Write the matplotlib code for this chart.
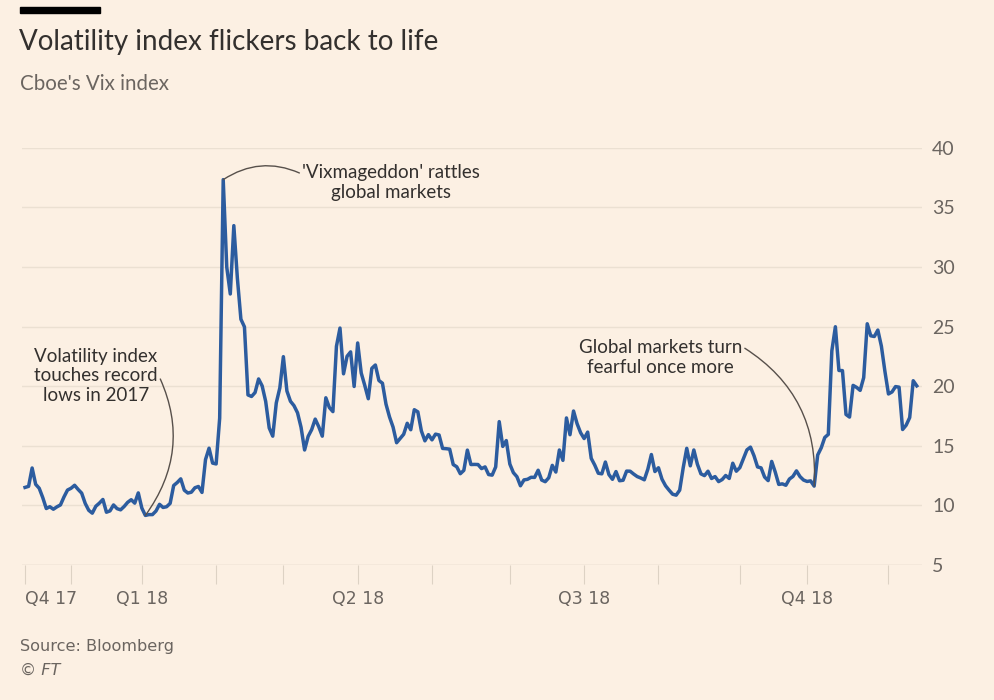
import numpy as np
import pandas as pd
import matplotlib
matplotlib.use("Agg")
import matplotlib.pyplot as plt

# Cboe Vix index, daily closes (13 Nov 2017 - 13 Nov 2018)
holidays = ["2017-11-23", "2017-12-25", "2018-01-01", "2018-01-15", "2018-02-19",
            "2018-03-30", "2018-05-28", "2018-07-04", "2018-09-03"]
vix = [
    # Nov 17
    11.50, 11.59, 13.13, 11.76, 11.43, 10.65, 9.73, 9.88, 9.67, 9.87, 10.03, 10.70, 11.28,
    # Dec 17
    11.43, 11.68, 11.33, 11.02, 10.16, 9.58, 9.34, 9.92, 10.18, 10.49, 9.42, 9.53, 10.03,
    9.72, 9.62, 9.90, 10.25, 10.47, 10.18, 11.04,
    # Jan 18
    9.77, 9.15, 9.22, 9.22, 9.52, 10.08, 9.82, 9.88, 10.16, 11.66, 11.91, 12.22, 11.27,
    11.03, 11.10, 11.47, 11.58, 11.08, 13.84, 14.79, 13.54,
    # Feb 18
    13.47, 17.31, 37.32, 29.98, 27.73, 33.46, 29.06, 25.61, 24.97, 19.26, 19.13, 19.46,
    20.60, 20.02, 18.72, 16.49, 15.80, 18.59, 19.85,
    # Mar 18
    22.47, 19.59, 18.73, 18.36, 17.76, 16.54, 14.64, 15.78, 16.35, 17.23, 16.59, 15.80,
    19.02, 18.20, 17.86, 23.34, 24.87, 21.03, 22.50, 22.87, 19.97,
    # Apr 18
    23.62, 21.10, 20.06, 18.94, 21.49, 21.77, 20.47, 20.24, 18.49, 17.41, 16.56, 15.25,
    15.60, 15.96, 16.88, 16.34, 18.02, 17.84, 16.24, 15.41, 15.93,
    # May 18
    15.49, 15.97, 15.90, 14.77, 14.75, 14.71, 13.42, 13.23, 12.65, 12.93, 14.63, 13.42,
    13.43, 13.42, 13.08, 13.22, 12.58, 12.53, 13.22, 17.02, 14.94, 15.43,
    # Jun 18
    13.46, 12.74, 12.40, 11.64, 12.13, 12.18, 12.35, 12.34, 12.94, 12.12, 11.98, 12.31,
    13.35, 12.79, 14.64, 13.77, 17.33, 15.92, 17.91, 16.85, 16.09,
    # Jul 18
    15.60, 16.14, 13.94, 13.37, 12.69, 12.64, 13.63, 12.58, 12.18, 12.83, 12.06, 12.10,
    12.87, 12.86, 12.62, 12.41, 12.29, 12.14, 13.03, 14.26, 12.83,
    # Aug 18
    13.15, 12.19, 11.64, 11.27, 10.93, 10.85, 11.27, 13.16, 14.78, 13.31, 14.64, 13.45,
    12.64, 12.49, 12.86, 12.25, 12.41, 11.99, 12.16, 12.50, 12.25, 13.53, 12.86,
    # Sep 18
    13.16, 13.91, 14.65, 14.88, 14.16, 13.22, 13.14, 12.37, 12.07, 13.68, 12.79, 11.75,
    11.80, 11.68, 12.20, 12.42, 12.89, 12.41, 12.12,
    # Oct 18
    12.00, 12.05, 11.61, 14.22, 14.82, 15.69, 15.95, 22.96, 24.98, 21.31, 21.30, 17.62,
    17.40, 20.06, 19.89, 19.64, 20.71, 25.23, 24.22, 24.16, 24.70, 23.35, 21.23,
    # Nov 18
    19.34, 19.51, 19.96, 19.91, 16.36, 16.72, 17.36, 20.45, 20.02,
]
dates = pd.bdate_range("2017-11-13", "2018-11-13", freq="C", holidays=holidays)
s = pd.Series(vix, index=dates)

y_ticks = [5, 10, 15, 20, 25, 30, 35, 40]
q_labels = {"2018-01": "Q1 18", "2018-04": "Q2 18", "2018-07": "Q3 18", "2018-10": "Q4 18"}

BG = "#fcf0e3"
LINE = "#2c5c9f"
DARK = "#33302e"
GREY = "#6b6560"
GRID = "#ebe0d2"

# chart is spaced by trading day
pos = np.arange(len(s))

fig = plt.figure(figsize=(9.94, 7.0), dpi=100, facecolor=BG)
ax = fig.add_axes([0.022, 0.193, 0.906, 0.596], facecolor=BG)

ax.plot(pos, s.values, color=LINE, lw=2.5, solid_joinstyle="round", zorder=3)

ax.set_xlim(-0.9, len(s) + 0.6)
ax.set_ylim(5, 40)

# y axis on the right, gridlines only
ax.yaxis.tick_right()
ax.set_yticks(y_ticks)
ax.set_yticklabels([str(v) for v in y_ticks])
ax.tick_params(axis="y", length=0, pad=7, labelsize=14, labelcolor=GREY)
for lab in ax.get_yticklabels():
    lab.set_fontfamily("Lato")
ax.grid(axis="y", color=GRID, lw=1.0, zorder=0)
for sp in ax.spines.values():
    sp.set_visible(False)

# ticks at the first trading day of every month
months = s.index.to_period("M")
first = [0] + [i for i in range(1, len(s)) if months[i] != months[i - 1]]
labels = ["Q4 17"] + [q_labels.get(str(months[i]), "") for i in first[1:]]
ax.set_xticks(first)
ax.set_xticklabels(labels)
ax.tick_params(axis="x", length=14, width=0.8, color="#ddd2c4", pad=4,
               labelsize=12.5, labelcolor=GREY)
for lab in ax.get_xticklabels():
    lab.set_fontfamily("Liberation Sans Narrow")
ax.get_xticklabels()[0].set_horizontalalignment("left")
ax.axhline(5, color="#e3d8ca", lw=1.0, zorder=1)

# annotations
note_kw = dict(textcoords="axes fraction", ha="center", va="center",
               fontsize=13.5, color=DARK, family="Lato")
arrow_kw = dict(arrowstyle="-", color="#57504b", lw=1.0, shrinkA=0, shrinkB=0)

peak = int(np.argmax(s.values))
ax.annotate("'Vixmageddon' rattles\nglobal markets", xy=(peak, s.iloc[peak]),
            xytext=(0.41, 0.917),
            arrowprops=dict(connectionstyle="arc3,rad=0.28", relpos=(0.0, 0.72), **arrow_kw),
            **note_kw)

jan = np.flatnonzero(months == pd.Period("2018-01", "M"))
low = jan[np.argmin(s.values[jan])]
ax.annotate("Volatility index\ntouches record\nlows in 2017", xy=(low, s.iloc[low]),
            xytext=(0.082, 0.453),
            arrowprops=dict(connectionstyle="arc3,rad=-0.3", relpos=(1.0, 0.55), **arrow_kw),
            **note_kw)

octo = np.flatnonzero(months == pd.Period("2018-10", "M"))[:5]
trough = octo[np.argmin(s.values[octo])]
ax.annotate("Global markets turn\nfearful once more", xy=(trough, s.iloc[trough]),
            xytext=(0.709, 0.497),
            arrowprops=dict(connectionstyle="arc3,rad=-0.3", relpos=(1.0, 0.8), **arrow_kw),
            **note_kw)

# header and footer
fig.patches.append(plt.Rectangle((20 / 994, 1 - 13 / 700), 80 / 994, 6 / 700,
                                 transform=fig.transFigure, color="black", zorder=5))
fig.text(19 / 994, 1 - 42 / 700, "Volatility index flickers back to life",
         fontsize=20, color=DARK, family="Lato", va="center")
fig.text(20 / 994, 1 - 84 / 700, "Cboe's Vix index",
         fontsize=14.8, color=GREY, family="Lato", va="center")
fig.text(20 / 994, 1 - 647 / 700, "Source: Bloomberg",
         fontsize=11.6, color=GREY, family="Liberation Sans Narrow", va="center")
fig.text(20 / 994, 1 - 670 / 700, "© FT", fontsize=11.6, color=GREY,
         family="Liberation Sans Narrow", style="italic", va="center")

fig.savefig("out.png", dpi=100, facecolor=BG)
